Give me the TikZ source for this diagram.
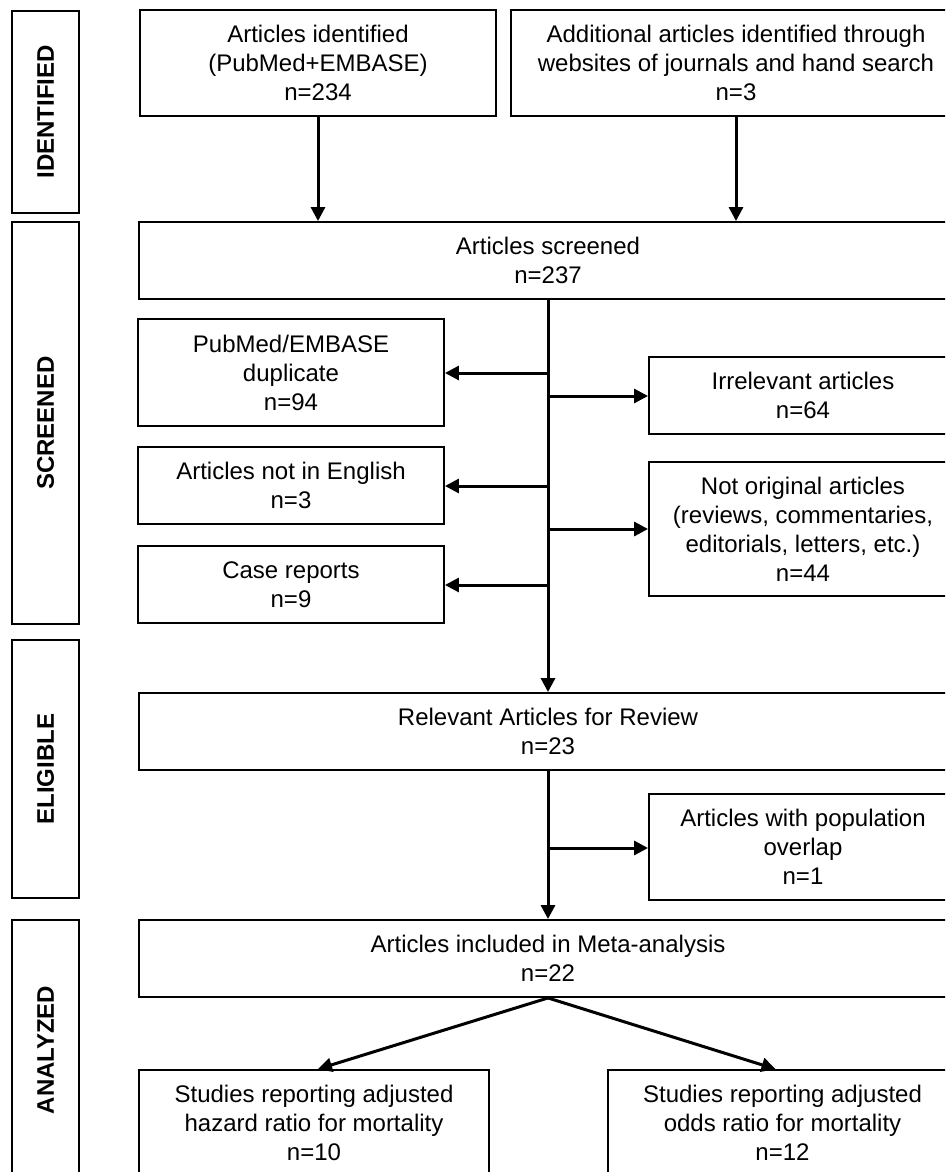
\documentclass[tikz,border=0pt]{standalone}
\usepackage{fontspec}
\setmainfont{Liberation Sans}
\usetikzlibrary{arrows.meta}
\tikzset{
  box/.style={draw, line width=1.9pt, align=center, inner sep=0pt, font=\fontsize{24}{29}\selectfont},
  side/.style={draw, line width=1.9pt, align=center, inner sep=0pt, rotate=90, font=\fontsize{24}{29}\selectfont\bfseries},
  arr/.style={line width=3pt, -{Triangle[length=14pt,width=14pt]}},
  ln/.style={line width=3pt}
}
\begin{document}
\begin{tikzpicture}[x=1pt,y=-1pt]
\useasboundingbox (0,0) rectangle (945,1172);
\clip (0,0) rectangle (945,1172);
% side labels
\node[side, minimum width=202pt, minimum height=67pt] (sid) at (45.5,112) {IDENTIFIED};
\node[side, minimum width=402pt, minimum height=67pt] (sscr) at (45.5,423) {SCREENED};
\node[side, minimum width=258pt, minimum height=67pt] (selig) at (45.5,769) {ELIGIBLE};
\node[side, minimum width=260pt, minimum height=67pt] (sana) at (45.5,1050) {ANALYZED};
% boxes
\node[box, minimum width=356pt, minimum height=106pt] (id1) at (318,63) {Articles identified\\(PubMed+EMBASE)\\n=234};
\node[box, minimum width=450pt, minimum height=106pt] (id2) at (736,63) {Additional articles identified through\\websites of journals and hand search\\n=3};
\node[box, minimum width=818pt, minimum height=77pt] (scr) at (548,260.5) {Articles screened\\n=237};
\node[box, minimum width=306pt, minimum height=107pt] (dup) at (291,372.5) {PubMed/EMBASE\\duplicate\\n=94};
\node[box, minimum width=306pt, minimum height=77pt] (eng) at (291,485.5) {Articles not in English\\n=3};
\node[box, minimum width=306pt, minimum height=77pt] (case) at (291,584.5) {Case reports\\n=9};
\node[box, minimum width=308pt, minimum height=77pt] (irr) at (803,395.5) {Irrelevant articles\\n=64};
\node[box, minimum width=308pt, minimum height=134pt] (nor) at (803,529) {Not original articles\\(reviews, commentaries,\\editorials, letters, etc.)\\n=44};
\node[box, minimum width=818pt, minimum height=77pt] (rel) at (548,731.5) {Relevant Articles for Review\\n=23};
\node[box, minimum width=308pt, minimum height=106pt] (ovl) at (803,847) {Articles with population\\overlap\\n=1};
\node[box, minimum width=818pt, minimum height=77pt] (meta) at (548,958.5) {Articles included in Meta-analysis\\n=22};
\node[box, minimum width=350pt, minimum height=106pt] (hr) at (314,1123) {Studies reporting adjusted\\hazard ratio for mortality\\n=10};
\node[box, minimum width=349pt, minimum height=106pt] (or) at (782.5,1123) {Studies reporting adjusted\\odds ratio for mortality\\n=12};
% connectors
\draw[arr] (id1.south) -- (id1.south |- scr.north);
\draw[arr] (id2.south) -- (id2.south |- scr.north);
\draw[arr] (scr.south) -- (rel.north);
\coordinate (c1) at (548,373);
\coordinate (c2) at (548,396);
\coordinate (c3) at (548,486);
\coordinate (c4) at (548,529);
\coordinate (c5) at (548,585);
\coordinate (c6) at (548,848);
\draw[arr] (c1) -- (c1 -| dup.east);
\draw[arr] (c2) -- (c2 -| irr.west);
\draw[arr] (c3) -- (c3 -| eng.east);
\draw[arr] (c4) -- (c4 -| nor.west);
\draw[arr] (c5) -- (c5 -| case.east);
\draw[arr] (rel.south) -- (meta.north);
\draw[arr] (c6) -- (c6 -| ovl.west);
\draw[arr] (meta.south) -- ([xshift=4pt]hr.north);
\draw[arr] (meta.south) -- ([xshift=-7pt]or.north);
\end{tikzpicture}
\end{document}
